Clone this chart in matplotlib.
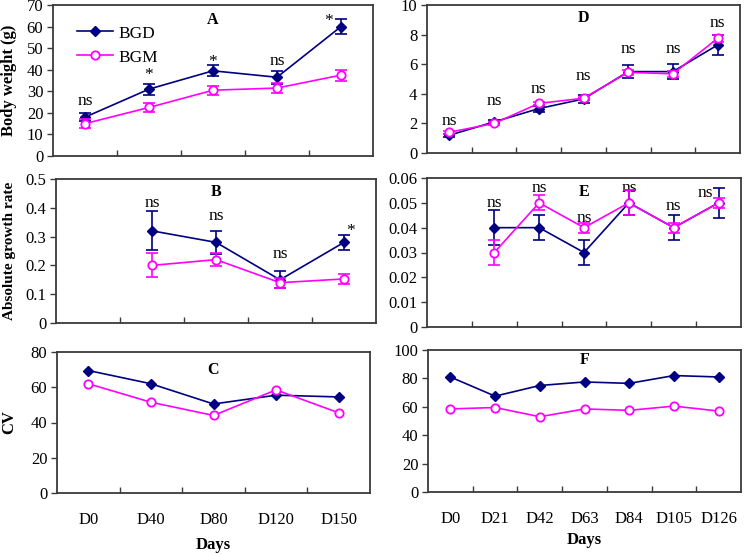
import numpy as np
import matplotlib
matplotlib.use("Agg")
import matplotlib.pyplot as plt
from matplotlib.ticker import FuncFormatter, FixedLocator

plt.rcParams["font.family"] = ["Liberation Serif", "DejaVu Serif"]

# ---- data ----
days_left = ["D0", "D40", "D80", "D120", "D150"]
days_right = ["D0", "D21", "D42", "D63", "D84", "D105", "D126"]

# A: body weight (g)
bw_bgd = [18, 31, 39.5, 36.5, 60]
bw_bgd_err = [2, 2.5, 2.5, 3, 3.5]
bw_bgm = [15, 22.5, 30.5, 31.5, 37.5]
bw_bgm_err = [2, 2, 2, 2.5, 2.5]
bw_sig = ["ns", "*", "*", "ns", "*"]
bw_sig_x = [0, 1, 2, 3, 3.8]
bw_sig_y = [23.5, 35.5, 41.5, 42, 60.5]

# B: absolute growth rate (no value at D0)
agr_bgd = [np.nan, 0.32, 0.28, 0.15, 0.28]
agr_bgd_err = [np.nan, 0.068, 0.04, 0.03, 0.025]
agr_bgm = [np.nan, 0.20, 0.22, 0.14, 0.153]
agr_bgm_err = [np.nan, 0.042, 0.022, 0.017, 0.017]
agr_sig = ["ns", "ns", "ns", "*"]
agr_sig_x = [1, 2, 3, 4.1]
agr_sig_y = [0.403, 0.358, 0.226, 0.305]

# C: CV
cv_bgd = [69.5, 62, 50.5, 55.5, 54.5]
cv_bgm = [62, 51.5, 44, 58.5, 45.5]

# D: body weight, second trial
bw2_bgd = [1.2, 2.1, 3.0, 3.65, 5.5, 5.5, 7.3]
bw2_bgd_err = [0.1, 0.1, 0.2, 0.3, 0.45, 0.5, 0.7]
bw2_bgm = [1.4, 2.0, 3.35, 3.7, 5.45, 5.35, 7.75]
bw2_bgm_err = [0.1, 0.1, 0.1, 0.1, 0.15, 0.2, 0.25]
bw2_sig = ["ns"] * 7
bw2_sig_x = [0, 1, 2, 3, 4, 5, 6]
bw2_sig_y = [1.9, 3.25, 4.05, 4.95, 6.75, 6.75, 8.5]

# E: absolute growth rate, second trial (no value at D0)
agr2_bgd = [np.nan, 0.04, 0.04, 0.03, 0.05, 0.04, 0.05]
agr2_bgd_err = [np.nan, 0.007, 0.005, 0.005, 0.005, 0.005, 0.006]
agr2_bgm = [np.nan, 0.03, 0.05, 0.04, 0.05, 0.04, 0.05]
agr2_bgm_err = [np.nan, 0.005, 0.003, 0.002, 0.005, 0.002, 0.002]
agr2_sig = ["ns"] * 6
agr2_sig_x = [1, 2, 3, 4, 5, 5.7]
agr2_sig_y = [0.0484, 0.0545, 0.0424, 0.0545, 0.0471, 0.0525]

# F: CV, second trial
cv2_bgd = [81, 67.5, 75, 77.5, 76.5, 82, 81]
cv2_bgm = [58.5, 59.5, 53, 58.5, 57.5, 60.5, 57]

NAVY = "#000080"
MAGENTA = "#ff00ff"
FRAME = "#3a3a3a"

fig = plt.figure(figsize=(7.44, 5.55), dpi=100)
W, H = 744, 555


def add_ax(left, right, top, bottom):
    return fig.add_axes([left / W, 1 - bottom / H, (right - left) / W, (bottom - top) / H])


def style(ax, cats, ymax, ystep, letter, letter_y, show_x):
    n = len(cats)
    ax.set_xlim(-0.5, n - 0.5)
    ax.set_ylim(0, ymax)
    ax.set_yticks(np.arange(0, ymax + ystep / 2, ystep))
    ax.yaxis.set_major_formatter(FuncFormatter(lambda v, p: "%g" % round(v, 4)))
    ax.set_xticks(range(n))
    ax.set_xticklabels(cats if show_x else [""] * n, fontsize=12)
    ax.xaxis.set_minor_locator(FixedLocator(np.arange(0.5, n - 1, 1)))
    ax.tick_params(axis="x", which="major", length=0, pad=14)
    ax.tick_params(axis="x", which="minor", direction="in", length=4, color=FRAME, width=1)
    ax.tick_params(axis="y", direction="out", length=4, color=FRAME, width=1, labelsize=12, pad=3)
    for s in ax.spines.values():
        s.set_color(FRAME)
        s.set_linewidth(1.3)
    ax.text(0.5, letter_y, letter, transform=ax.transAxes, ha="center", va="center",
            fontsize=11.5, fontweight="bold")


def draw(ax, bgd, bgm, bgd_err=None, bgm_err=None):
    x = np.arange(len(bgd))
    if bgd_err is not None:
        ax.errorbar(x, bgd, yerr=bgd_err, fmt="none", ecolor=NAVY, elinewidth=1.2,
                    capsize=4, capthick=1.2, zorder=3)
        ax.errorbar(x, bgm, yerr=bgm_err, fmt="none", ecolor=MAGENTA, elinewidth=1.2,
                    capsize=4, capthick=1.2, zorder=4)
    ax.plot(x, bgd, color=NAVY, marker="D", markersize=5.5, mfc=NAVY, mec=NAVY,
            lw=1.2, label="BGD", zorder=3)
    ax.plot(x, bgm, color=MAGENTA, marker="o", markersize=6, mfc="white", mec=MAGENTA,
            mew=1.3, lw=1.2, label="BGM", zorder=4)


def sig(ax, labels, xs, ys):
    for t, x, y in zip(labels, xs, ys):
        ax.text(x, y, t, ha="center", va="baseline", fontsize=12.5)


# left column
axA = add_ax(53, 373, 5, 156)
draw(axA, bw_bgd, bw_bgm, bw_bgd_err, bw_bgm_err)
style(axA, days_left, 70, 10, "A", 0.9, False)
sig(axA, bw_sig, bw_sig_x, bw_sig_y)
axA.set_ylabel("Body weight (g)", fontsize=12, fontweight="bold")
axA.yaxis.set_label_coords((17 - 53) / 320, 0.5)
axA.legend(loc="upper left", bbox_to_anchor=(0.075, 0.865), frameon=False, fontsize=12.5,
           handlelength=2.1, handletextpad=0.3, labelspacing=0.45, borderpad=0,
           borderaxespad=0)

axB = add_ax(56, 376, 179, 323)
draw(axB, agr_bgd, agr_bgm, agr_bgd_err, agr_bgm_err)
style(axB, days_left, 0.5, 0.1, "B", 0.91, False)
sig(axB, agr_sig, agr_sig_x, agr_sig_y)
axB.set_ylabel("Absolute growth rate", fontsize=11, fontweight="bold")
axB.yaxis.set_label_coords((16 - 56) / 320, 0.5)

axC = add_ax(57, 370, 352, 493)
draw(axC, cv_bgd, cv_bgm)
style(axC, days_left, 80, 20, "C", 0.87, True)
axC.set_ylabel("CV", fontsize=12, fontweight="bold")
axC.yaxis.set_label_coords((17 - 57) / 313, 0.5)
axC.set_xlabel("Days", fontsize=12, fontweight="bold", labelpad=6)

# right column
axD = add_ax(427, 740, 5, 153)
draw(axD, bw2_bgd, bw2_bgm, bw2_bgd_err, bw2_bgm_err)
style(axD, days_right, 10, 2, "D", 0.91, False)
sig(axD, bw2_sig, bw2_sig_x, bw2_sig_y)

axE = add_ax(427, 741, 178, 327)
draw(axE, agr2_bgd, agr2_bgm, agr2_bgd_err, agr2_bgm_err)
style(axE, days_right, 0.06, 0.01, "E", 0.906, False)
sig(axE, agr2_sig, agr2_sig_x, agr2_sig_y)

axF = add_ax(428, 741, 350, 492)
draw(axF, cv2_bgd, cv2_bgm)
style(axF, days_right, 100, 20, "F", 0.93, True)
axF.set_xlabel("Days", fontsize=12, fontweight="bold", labelpad=3)

fig.savefig("out.png", dpi=100)
plt.close(fig)
